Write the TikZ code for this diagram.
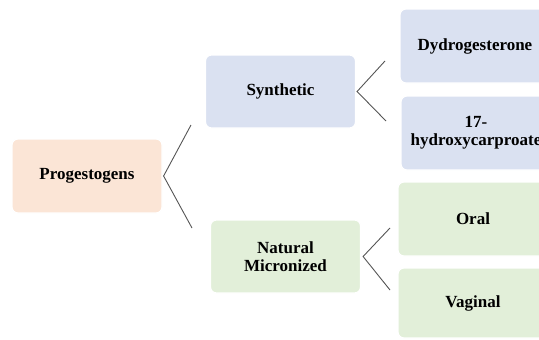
\documentclass[tikz,border=0pt]{standalone}
\usepackage{fontspec}
\setmainfont{Liberation Serif}

\definecolor{peach}{HTML}{FBE5D6}
\definecolor{bluegrey}{HTML}{DAE1F1}
\definecolor{palegreen}{HTML}{E2EFD9}
\definecolor{linegrey}{HTML}{555555}

\tikzset{
  box/.style={rounded corners=6pt, draw=white, line width=1.2pt,
    minimum width=150pt, minimum height=74pt, align=center,
    font=\fontsize{17}{18}\selectfont\bfseries, inner sep=0pt},
  link/.style={draw=linegrey, line width=0.9pt}
}

\begin{document}
\begin{tikzpicture}[x=1pt,y=-1pt]
        \useasboundingbox (0,0) rectangle (539,340);

        \node[box,fill=peach] (prog) at (87,176) {Progestogens};
        \node[box,fill=bluegrey,minimum height=73pt] (syn) at (280.5,91.5) {Synthetic};
        \node[box,fill=palegreen,minimum height=73pt] (nat) at (285.5,256.5) {Natural\\Micronized};
        \node[box,fill=bluegrey] (dyd) at (475,46) {Dydrogesterone};
        \node[box,fill=bluegrey] (hyd) at (476,133) {17-\\hydroxycarproate};
        \node[box,fill=palegreen] (oral) at (473,219) {Oral};
        \node[box,fill=palegreen,minimum height=70pt] (vag) at (473,303) {Vaginal};

        \coordinate (p1) at (191,125);
        \coordinate (p2) at (192,228);
        \coordinate (s1) at (385,61);
        \coordinate (s2) at (386,121);
        \coordinate (n1) at (390,228);
        \coordinate (n2) at (390,290);

        \draw[link] (p1) -- ([xshift=1pt]prog.east) -- (p2);
        \draw[link] (s1) -- ([xshift=1pt]syn.east) -- (s2);
        \draw[link] (n1) -- ([xshift=2pt]nat.east) -- (n2);
    \end{tikzpicture}
\end{document}
